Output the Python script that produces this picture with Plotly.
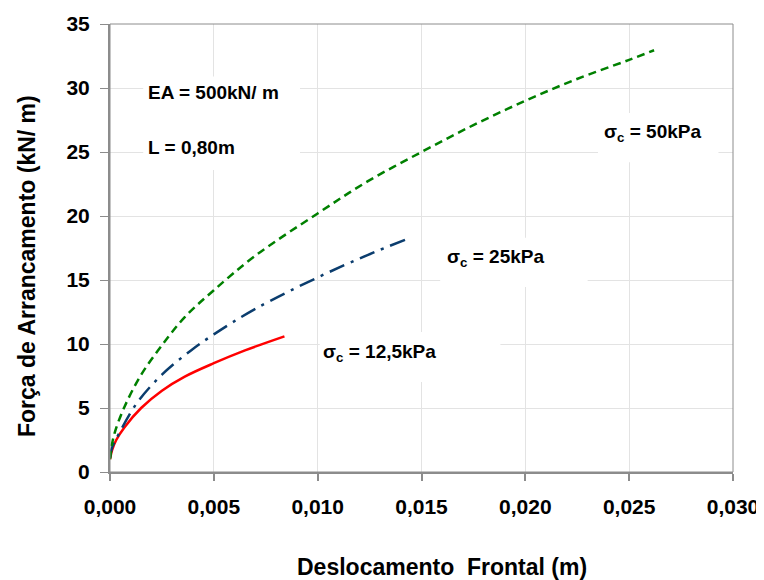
import plotly.graph_objects as go

# Data
x_125 = [0.0, 0.0001, 0.0003, 0.0007, 0.0015, 0.0025, 0.0036, 0.005, 0.0065, 0.0084]
y_125 = [1.0, 1.7, 2.5, 3.5, 5.0, 6.35, 7.45, 8.5, 9.5, 10.6]

x_25 = [0.0, 0.0001, 0.0004, 0.0013, 0.0025, 0.0039, 0.005, 0.007, 0.010, 0.0124, 0.0143]
y_25 = [1.1, 1.9, 2.9, 5.4, 7.6, 9.5, 10.75, 12.75, 15.2, 16.95, 18.2]

x_50 = [0.0, 0.0001, 0.00025, 0.0007, 0.0015, 0.0025, 0.0036, 0.005, 0.007, 0.010,
        0.0124, 0.015, 0.0175, 0.020, 0.0224, 0.025, 0.0262]
y_50 = [1.0, 2.2, 3.2, 5.1, 7.6, 9.9, 12.1, 14.2, 16.9, 20.2,
        22.7, 25.0, 27.1, 29.0, 30.65, 32.2, 32.95]

x_ticks = [0.0, 0.005, 0.010, 0.015, 0.020, 0.025, 0.030]
x_tick_labels = ["0,000", "0,005", "0,010", "0,015", "0,020", "0,025", "0,030"]
y_ticks = [0, 5, 10, 15, 20, 25, 30, 35]

FONT = "Liberation Sans, Arial, sans-serif"
OFF = 8  # page body margin offset
W, H = 764 - OFF, 580 - OFF
L, T = 110 - OFF, 24 - OFF
R = W - (733 - OFF)
B = H - (472 - OFF)
PW, PH = W - L - R, H - T - B


def px2paper(px, py):
    # px, py given in reference-image pixels
    return (px - OFF - L) / PW, (H - B - (py - OFF)) / PH


fig = go.Figure()
fig.add_trace(go.Scatter(x=x_125, y=y_125, mode="lines", line_shape="spline",
                         line=dict(color="#ff0000", width=2.5), showlegend=False))
fig.add_trace(go.Scatter(x=x_25, y=y_25, mode="lines", line_shape="spline",
                         line=dict(color="#0b3d6e", width=2.5, dash="16px,7px,3px,7px"),
                         showlegend=False))
fig.add_trace(go.Scatter(x=x_50, y=y_50, mode="lines", line_shape="spline",
                         line=dict(color="#008000", width=2.5, dash="8px,5px"),
                         showlegend=False))

# white boxes behind labels (above gridlines, below traces)
boxes = [
    (0.0016, 0.00915, 23.6, 30.9),
    (0.0235, 0.0293, 24.2, 28.05),
    (0.0159, 0.0230, 14.45, 18.3),
    (0.0101, 0.0188, 7.03, 10.94),
]
for bx0, bx1, by0, by1 in boxes:
    fig.add_shape(type="rect", xref="x", yref="y", x0=bx0, x1=bx1, y0=by0, y1=by1,
                  fillcolor="white", line=dict(width=0), layer="between")

# frame (thin top/right border)
fig.add_shape(type="rect", xref="x domain", yref="y domain", x0=0, x1=1, y0=0, y1=1,
              line=dict(color="#8c8c8c", width=1), layer="above")

lab_font = dict(family=FONT, size=19, color="black", weight="bold")
labels = [
    ("EA = 500kN/ m", 146, 93),
    ("L = 0,80m", 146, 147),
    ("σ<sub>c</sub> = 50kPa", 602, 133),
    ("σ<sub>c</sub> = 25kPa", 445, 258),
    ("σ<sub>c</sub> = 12,5kPa", 321, 353),
]
for txt, px, py in labels:
    ax, ay = px2paper(px, py)
    fig.add_annotation(text=txt, x=ax, y=ay, xref="paper", yref="paper",
                       xanchor="left", yanchor="middle", showarrow=False, font=lab_font)

title_font = dict(family=FONT, size=23, color="black", weight="bold")
tx, ty = px2paper(442, 567)
fig.add_annotation(text="Deslocamento  Frontal (m)", x=tx, y=ty,
                   xref="paper", yref="paper", xanchor="center", yanchor="middle",
                   showarrow=False, font=title_font)
tx, ty = px2paper(27, 266)
fig.add_annotation(text="Força de Arrancamento (kN/ m)", x=tx, y=ty,
                   xref="paper", yref="paper", xanchor="center", yanchor="middle",
                   textangle=-90, showarrow=False, font=title_font)

tick_font = dict(family=FONT, size=21, color="black", weight="bold")
fig.update_xaxes(range=[0, 0.030], tickvals=x_ticks, ticktext=x_tick_labels,
                 showgrid=True, gridcolor="#e3e3e3", gridwidth=1,
                 showline=True, linecolor="#8c8c8c", linewidth=2,
                 ticks="outside", ticklen=7, tickcolor="#8c8c8c", tickwidth=2,
                 tickfont=tick_font, ticklabelstandoff=8, zeroline=False,
                 automargin=False)
fig.update_yaxes(range=[0, 35], tickvals=y_ticks,
                 showgrid=True, gridcolor="#e3e3e3", gridwidth=1,
                 showline=True, linecolor="#8c8c8c", linewidth=2,
                 ticks="outside", ticklen=8, tickcolor="#8c8c8c", tickwidth=1,
                 tickfont=tick_font, ticklabelstandoff=6, zeroline=False,
                 automargin=False)

fig.update_layout(width=W, height=H, margin=dict(l=L, r=R, t=T, b=B),
                  plot_bgcolor="white", paper_bgcolor="white", showlegend=False)

fig.write_html("out.html")
